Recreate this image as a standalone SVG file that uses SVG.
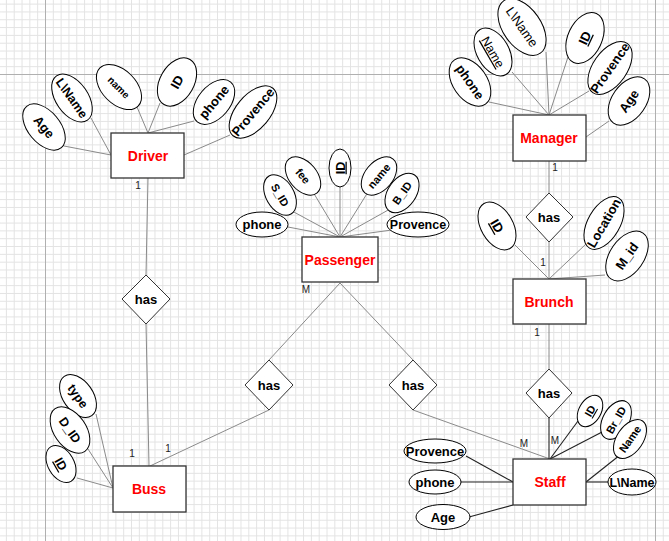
<svg xmlns="http://www.w3.org/2000/svg" width="669" height="541" viewBox="0 0 669 541">
<defs>
<pattern id="grid" x="45" y="74" width="7.82" height="7.82" patternUnits="userSpaceOnUse">
<rect x="0" y="0" width="7.82" height="1" fill="#e3e3e3"/>
<rect x="0" y="0" width="1" height="7.82" fill="#e3e3e3"/>
</pattern>
<style>
.ent{fill:#fff;stroke:#333;stroke-width:1.3}
.ent-t{font-family:"Liberation Sans",Arial,sans-serif;font-weight:bold;font-size:14px;fill:#f00;text-anchor:middle}
.att{fill:#fff;stroke:#000;stroke-width:1}
.att-t{font-family:"Liberation Sans",Arial,sans-serif;font-weight:bold;font-size:12.5px;fill:#000;text-anchor:middle}
.sm{font-size:11px}
.xs{font-size:10px}
.nb{font-weight:normal}
.u{text-decoration:underline}
.rel{fill:#fff;stroke:#333;stroke-width:1}
.rel-t{font-family:"Liberation Sans",Arial,sans-serif;font-weight:bold;font-size:13px;fill:#000;text-anchor:middle}
.c{stroke:#8a8a8a;stroke-width:1;fill:none}
.cd{stroke:#222;stroke-width:1.1;fill:none}
.lbl{font-family:"Liberation Sans",Arial,sans-serif;font-size:10px;fill:#222;text-anchor:middle}
</style>
</defs>
<rect width="669" height="541" fill="#fff"/>
<rect width="669" height="541" fill="url(#grid)"/>
<g stroke="#b0b0b0" stroke-width="1">
<line x1="45.5" y1="0" x2="45.5" y2="541"/>
<line x1="655.5" y1="0" x2="655.5" y2="541"/>
<line x1="0" y1="74.5" x2="669" y2="74.5"/>
</g>

<g id="connectors">
<line class="c" x1="64" y1="146" x2="111" y2="155"/>
<line class="c" x1="91" y1="118" x2="111" y2="155"/>
<line class="c" x1="137" y1="107" x2="148" y2="133"/>
<line class="c" x1="160" y1="103" x2="148" y2="133"/>
<line class="c" x1="194" y1="121" x2="148" y2="133"/>
<line class="c" x1="230" y1="135" x2="184" y2="155"/>
<line class="c" x1="148" y1="178" x2="146" y2="275"/>
<line class="c" x1="146" y1="324" x2="149" y2="466"/>
<line class="c" x1="96" y1="414" x2="113" y2="488"/>
<line class="c" x1="88" y1="449" x2="113" y2="488"/>
<line class="c" x1="77" y1="478" x2="113" y2="488"/>
<line class="c" x1="288" y1="227" x2="340" y2="237"/>
<line class="c" x1="292" y1="211" x2="340" y2="237"/>
<line class="c" x1="313" y1="192" x2="340" y2="237"/>
<line class="c" x1="340" y1="187" x2="340" y2="237"/>
<line class="c" x1="368" y1="192" x2="340" y2="237"/>
<line class="c" x1="390" y1="209" x2="340" y2="237"/>
<line class="c" x1="392" y1="230" x2="340" y2="237"/>
<line class="c" x1="340" y1="283" x2="269" y2="360"/>
<line class="c" x1="340" y1="283" x2="413" y2="360"/>
<line class="c" x1="269" y1="410" x2="150" y2="466"/>
<line class="c" x1="413" y1="410" x2="550" y2="459"/>
<line class="c" x1="489" y1="102" x2="549" y2="115"/>
<line class="c" x1="512" y1="72" x2="549" y2="115"/>
<line class="c" x1="546" y1="52" x2="549" y2="115"/>
<line class="c" x1="568" y1="57" x2="549" y2="115"/>
<line class="c" x1="589" y1="91" x2="549" y2="115"/>
<line class="c" x1="609" y1="121" x2="586" y2="137"/>
<line class="c" x1="549" y1="161" x2="549" y2="193"/>
<line class="c" x1="549" y1="242" x2="549" y2="279"/>
<line class="c" x1="515" y1="245" x2="549" y2="279"/>
<line class="c" x1="586" y1="244" x2="549" y2="279"/>
<line class="c" x1="605" y1="275" x2="549" y2="279"/>
<line class="c" x1="549" y1="324" x2="549" y2="369"/>
<line class="cd" x1="549" y1="418" x2="549" y2="459"/>
<line class="cd" x1="466" y1="456" x2="513" y2="482"/>
<line class="cd" x1="461" y1="482" x2="513" y2="482"/>
<line class="cd" x1="469" y1="517" x2="513" y2="505"/>
<line class="cd" x1="578" y1="421" x2="550" y2="459"/>
<line class="cd" x1="604" y1="431" x2="550" y2="459"/>
<line class="cd" x1="620" y1="455" x2="586" y2="482"/>
<line class="cd" x1="586" y1="482" x2="608" y2="482"/>
<text class="lbl" x="138" y="189">1</text>
<text class="lbl" x="306" y="293">M</text>
<text class="lbl" x="132" y="457">1</text>
<text class="lbl" x="168" y="452">1</text>
<text class="lbl" x="555" y="171">1</text>
<text class="lbl" x="543" y="266">1</text>
<text class="lbl" x="537" y="336">1</text>
<text class="lbl" x="524" y="447">M</text>
<text class="lbl" x="555" y="444">M</text>
</g>

<g id="driver">
<rect class="ent" x="111" y="133" width="73" height="45"/>
<text class="ent-t" x="148" y="161">Driver</text>
</g>
<g id="driver-age" transform="translate(44,127) rotate(50)"><ellipse class="att" rx="27" ry="16"/><text class="att-t" y="4.5" style="font-size:13px">Age</text></g>
<g id="driver-lname" transform="translate(72,98) rotate(55)"><ellipse class="att" rx="27" ry="16"/><text class="att-t" y="4.5">L\Name</text></g>
<g id="driver-name" transform="translate(119,87) rotate(45)"><ellipse class="att" rx="27" ry="17"/><text class="att-t xs" y="4">name</text></g>
<g id="driver-id" transform="translate(177,82) rotate(-60)"><ellipse class="att" rx="26" ry="17"/><text class="att-t" y="4.5" style="font-size:13px">ID</text></g>
<g id="driver-phone" transform="translate(214,102) rotate(-50)"><ellipse class="att" rx="26" ry="16"/><text class="att-t" y="4.5" style="font-size:13px">phone</text></g>
<g id="driver-provence" transform="translate(253,112) rotate(-50)"><ellipse class="att" rx="31" ry="17"/><text class="att-t" y="4.5" style="font-size:13px">Provence</text></g>

<g id="has-driver-buss">
<polygon class="rel" points="146,275 170,299 146,324 122,299"/>
<text class="rel-t" x="146" y="304">has</text>
</g>

<g id="buss">
<rect class="ent" x="113" y="466" width="73" height="46"/>
<text class="ent-t" x="149" y="494">Buss</text>
</g>
<g id="buss-type" transform="translate(78,396) rotate(55)"><ellipse class="att" rx="24" ry="15"/><text class="att-t" y="4.5">type</text></g>
<g id="buss-did" transform="translate(70,430) rotate(55)"><ellipse class="att" rx="26" ry="16"/><text class="att-t" y="4.5">D_ID</text></g>
<g id="buss-id" transform="translate(61,464) rotate(60)"><ellipse class="att" rx="20" ry="13"/><text class="att-t u" y="4.5">ID</text></g>

<g id="passenger">
<rect class="ent" x="302" y="237" width="76" height="45"/>
<text class="ent-t" x="340" y="265">Passenger</text>
</g>
<g id="passenger-phone" transform="translate(262,224.5)"><ellipse class="att" rx="26" ry="12.5"/><text class="att-t" y="4.5" style="font-size:13px">phone</text></g>
<g id="passenger-sid" transform="translate(280,195) rotate(60)"><ellipse class="att" rx="22" ry="14"/><text class="att-t sm" y="4">S_ID</text></g>
<g id="passenger-fee" transform="translate(303,176) rotate(50)"><ellipse class="att" rx="22" ry="14"/><text class="att-t sm" y="4">fee</text></g>
<g id="passenger-id" transform="translate(340,168) rotate(-90)"><ellipse class="att" rx="19" ry="11"/><text class="att-t u" y="4.5">ID</text></g>
<g id="passenger-name" transform="translate(379,176) rotate(-50)"><ellipse class="att" rx="22" ry="14"/><text class="att-t sm" y="4">name</text></g>
<g id="passenger-bid" transform="translate(402,193) rotate(-55)"><ellipse class="att" rx="22" ry="14"/><text class="att-t sm" y="4">B_ID</text></g>
<g id="passenger-provence" transform="translate(418,224.5)"><ellipse class="att" rx="31" ry="12.5"/><text class="att-t" y="4.5">Provence</text></g>

<g id="has-passenger-buss">
<polygon class="rel" points="269,360 293,385 269,410 245,385"/>
<text class="rel-t" x="269" y="390">has</text>
</g>
<g id="has-passenger-staff">
<polygon class="rel" points="413,360 437,385 413,410 389,385"/>
<text class="rel-t" x="413" y="390">has</text>
</g>

<g id="manager">
<rect class="ent" x="513" y="115" width="73" height="46"/>
<text class="ent-t" x="549" y="143">Manager</text>
</g>
<g id="manager-phone" transform="translate(470,82) rotate(55)"><ellipse class="att" rx="27" ry="17"/><text class="att-t" y="4.5" style="font-size:13px">phone</text></g>
<g id="manager-name" transform="translate(493,52) rotate(60)"><ellipse class="att" rx="26" ry="16"/><text class="att-t nb u" y="4.5">Name</text></g>
<g id="manager-lname" transform="translate(522,27) rotate(55)"><ellipse class="att" rx="32" ry="19"/><text class="att-t nb" y="4.5" style="font-size:13px">L\Name</text></g>
<g id="manager-id" transform="translate(585,38) rotate(-65)"><ellipse class="att" rx="27" ry="17"/><text class="att-t u" y="4.5" style="font-size:13px">ID</text></g>
<g id="manager-provence" transform="translate(610,68) rotate(-55)"><ellipse class="att" rx="30" ry="17"/><text class="att-t" y="4.5" style="font-size:13px">Provence</text></g>
<g id="manager-age" transform="translate(629,101) rotate(-55)"><ellipse class="att" rx="27" ry="17"/><text class="att-t" y="4.5" style="font-size:13px">Age</text></g>

<g id="has-manager-brunch">
<polygon class="rel" points="549,193 573,217 549,242 526,217"/>
<text class="rel-t" x="549" y="222">has</text>
</g>

<g id="brunch">
<rect class="ent" x="513" y="279" width="73" height="45"/>
<text class="ent-t" x="549" y="307">Brunch</text>
</g>
<g id="brunch-id" transform="translate(497,226) rotate(60)"><ellipse class="att" rx="26" ry="16"/><text class="att-t u" y="4.5" style="font-size:13px">ID</text></g>
<g id="brunch-location" transform="translate(604,223) rotate(-60)"><ellipse class="att" rx="29" ry="16"/><text class="att-t" y="4.5" style="font-size:13px">Location</text></g>
<g id="brunch-mid" transform="translate(627,256) rotate(-55)"><ellipse class="att" rx="28" ry="17"/><text class="att-t" y="4.5" style="font-size:13px">M_id</text></g>

<g id="has-brunch-staff">
<polygon class="rel" points="549,369 572,393 549,418 526,393"/>
<text class="rel-t" x="549" y="398">has</text>
</g>

<g id="staff">
<rect class="ent" x="513" y="459" width="73" height="46"/>
<text class="ent-t" x="550" y="487">Staff</text>
</g>
<g id="staff-provence" transform="translate(435,451)"><ellipse class="att" rx="31" ry="12"/><text class="att-t" y="4.5" style="font-size:13px">Provence</text></g>
<g id="staff-phone" transform="translate(435,482)"><ellipse class="att" rx="26" ry="12"/><text class="att-t" y="4.5" style="font-size:13px">phone</text></g>
<g id="staff-age" transform="translate(443,517)"><ellipse class="att" rx="27" ry="12.5"/><text class="att-t" y="4.5" style="font-size:13px">Age</text></g>
<g id="staff-id" transform="translate(590,411) rotate(-60)"><ellipse class="att" rx="17" ry="11"/><text class="att-t sm u" y="4">ID</text></g>
<g id="staff-brid" transform="translate(616,420) rotate(-60)"><ellipse class="att" rx="21" ry="13"/><text class="att-t sm" y="4">Br_ID</text></g>
<g id="staff-name" transform="translate(630,439) rotate(-55)"><ellipse class="att" rx="22" ry="13"/><text class="att-t sm" y="4">Name</text></g>
<g id="staff-lname" transform="translate(632,482)"><ellipse class="att" rx="24" ry="13"/><text class="att-t" y="4.5">L\Name</text></g>
</svg>
